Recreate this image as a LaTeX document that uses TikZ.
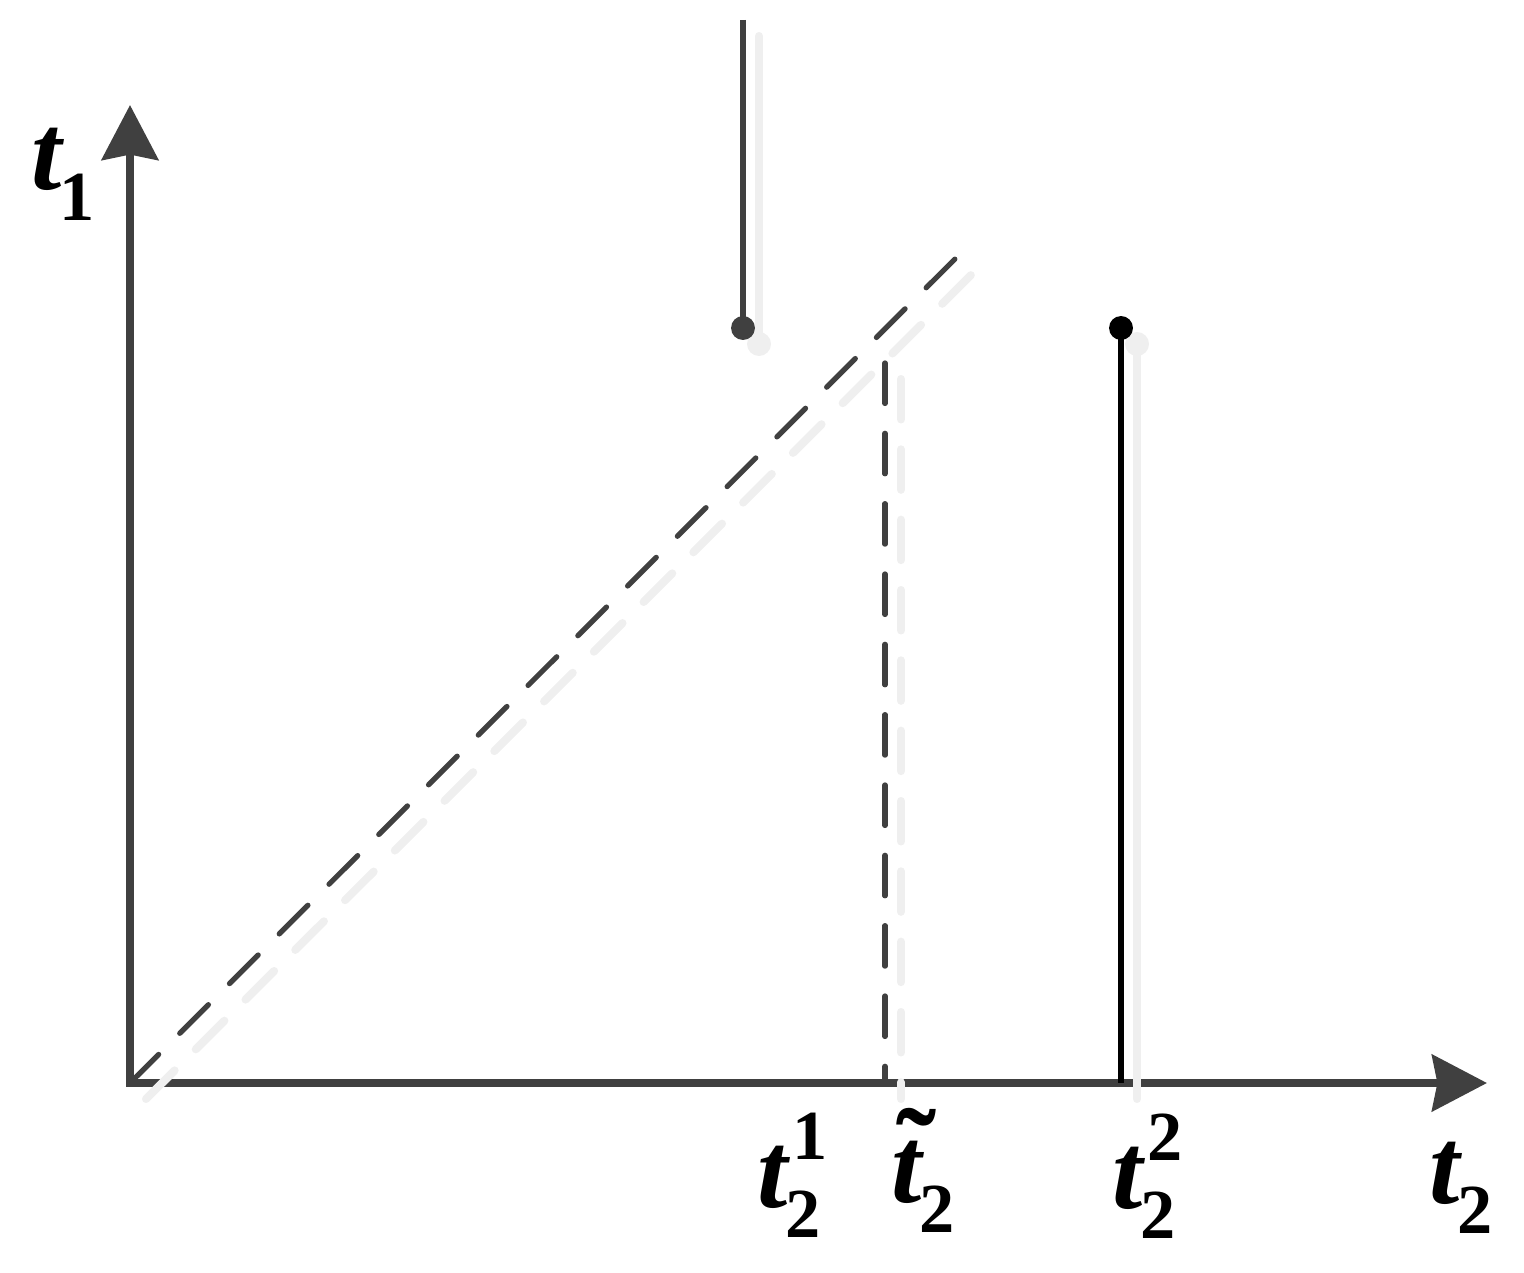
\documentclass[tikz,border=0pt]{standalone}
\usepackage{fontspec}
\setmainfont{Liberation Serif}
\usetikzlibrary{arrows.meta}
\definecolor{ax}{HTML}{404040}
\definecolor{shd}{HTML}{EFEFEF}
\newcommand{\tsym}{{\fontsize{31}{31}\selectfont\bfseries\itshape t}}
\newcommand{\dig}[1]{{\fontsize{20}{20}\selectfont\bfseries #1}}
\newcommand{\tsub}[1]{\tsym\kern-0.8pt\raisebox{-8.8pt}{\dig{#1}}}
\newcommand{\tsubsup}[2]{\tsym\kern-0.8pt\rlap{\raisebox{-8.8pt}{\dig{#1}}}\kern2pt\raisebox{13.5pt}{\dig{#2}}}
\newcommand{\ttil}{\rlap{\kern1.5pt\raisebox{3pt}{\fontsize{34}{34}\selectfont\bfseries ˜}}}
\begin{document}
\begin{tikzpicture}[x=0.01cm,y=-0.01cm,
  axis/.style={draw=ax,line width=2.4pt,line join=miter,
    {Stealth[length=15.6pt,width=16pt,inset=1.5pt]}-{Stealth[length=15.6pt,width=16pt,inset=1.5pt]}},
  dashline/.style={draw=ax,line width=1.5pt,line cap=round,dash pattern=on 11.5pt off 8.5pt},
  shadowline/.style={draw=shd,line width=2.3pt,line cap=round},
  shadowdash/.style={draw=shd,line width=2.3pt,line cap=round,dash pattern=on 11.5pt off 8.5pt},
  greyline/.style={draw=ax,line width=1.6pt},
  blackline/.style={draw=black,line width=1.6pt},
  dotnode/.style={circle,inner sep=0pt,minimum size=6.8pt},
  lab/.style={inner sep=0pt,anchor=base west}]
\useasboundingbox (0,0) rectangle (1524,1273);
% coordinates
\coordinate (O) at (130,1083);
\coordinate (Ytip) at (130,105);
\coordinate (Xtip) at (1487,1083);
\coordinate (Dend) at (958,256);
\coordinate (Vtop) at (885,363);
\coordinate (Vbot) at (885,1083);
\coordinate (Gtop) at (743,20);
\coordinate (Gdot) at (743,328);
\coordinate (Bdot) at (1121,328);
\coordinate (Bbot) at (1121,1083);
% axes
\draw[axis] (Ytip) -- (O) -- (Xtip);
% shadows
\draw[shadowdash] ([shift={(16,16)}]O) -- ([shift={(16,16)}]Dend);
\draw[shadowdash] ([shift={(16,16)}]Vtop) -- ([shift={(16,16)}]Vbot);
\draw[shadowline] ([shift={(16,16)}]Gtop) -- ([shift={(16,16)}]Gdot);
\fill[shd] ([shift={(16,16)}]Gdot) circle (12);
\draw[shadowline] ([shift={(16,16)}]Bdot) -- ([shift={(16,16)}]Bbot);
\fill[shd] ([shift={(16,16)}]Bdot) circle (12);
% lines
\draw[dashline] (O) -- (Dend);
\draw[dashline] (Vtop) -- (Vbot);
\node[dotnode,fill=ax] (gdot) at (Gdot) {};
\draw[greyline] (Gtop) -- (gdot.center);
\node[dotnode,fill=black] (bdot) at (Bdot) {};
\draw[blackline] (bdot.center) -- (Bbot);
% labels
\node[lab] (lt1) at (31,190) {\tsub{1}};
\node[lab] (lt21) at (757,1207) {\tsubsup{2}{1}};
\node[lab] (ltt2) at (891,1202) {\ttil\tsub{2}};
\node[lab] (lt22) at (1112,1208) {\tsubsup{2}{2}};
\node[lab] (lt2) at (1429,1203) {\tsub{2}};
\end{tikzpicture}
\end{document}
